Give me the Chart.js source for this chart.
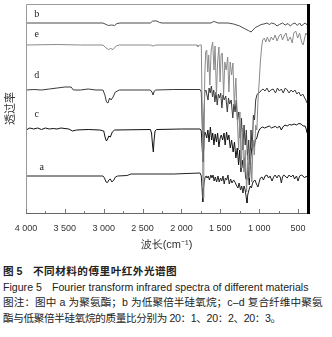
<!DOCTYPE html>
<html>
  <head>
    <meta charset="utf-8" />
    <title>FTIR spectra</title>
    <script src="https://cdn.jsdelivr.net/npm/chart.js@4"></script>
    <style>
      body { margin: 0; background: #fff; }
      #wrap { position: relative; width: 332px; height: 337px; overflow: hidden; }
      #caption {
        position: absolute; left: 3px; top: 264px; width: 330px;
        font-family: "Liberation Sans", "Noto Sans CJK SC", sans-serif;
        font-size: 10.6px; line-height: 15.5px; color: #222; white-space: nowrap;
      }
      #caption .num { display: inline-block; width: 30px; letter-spacing: 0; }
      #caption .fig { display: inline-block; width: 49px; }
    </style>
  </head>
  <body>
    <div id="wrap">
      <canvas id="ftirCanvas" width="332" height="262"></canvas>
      <div id="caption">
        <div style="font-weight: bold; letter-spacing: 0.5px"><span class="num">图 5</span>不同材料的傅里叶红外光谱图</div>
        <div><span class="fig">Figure 5</span>Fourier transform infrared spectra of different materials</div>
        <div style="letter-spacing: 0.1px">图注：图中 a 为聚氨酯；b 为低聚倍半硅氧烷；c–d 复合纤维中聚氨</div>
        <div style="letter-spacing: -0.35px">酯与低聚倍半硅氧烷的质量比分别为 20：1、20：2、20：3。</div>
      </div>
    </div>
    <script>
      // wavenumber (cm-1), transmittance (arbitrary, stacked)
      const xTicks = [4000, 3500, 3000, 2500, 2000, 1500, 1000, 500];
      const curveNames = ["b", "e", "d", "c", "a"];
      const labelAt = [[3861, 199], [3861, 179], [3861, 138], [3861, 99], [3797, 46]];

      const curveB = [
        [4000,190],[3010,190],[2970,188.5],[2940,187.5],[2900,188],[2860,187.5],[2830,189.5],
        [2790,190],[2400,190],[2370,192],[2320,192],[2280,190.5],[2250,190],[1620,190],
        [1590,191.5],[1560,191],[1530,190],[1400,190],[1330,189],[1250,187],[1180,184],
        [1140,182.5],[1105,181],[1080,183],[1050,185.5],[1010,187],[975,188.5],[940,189],
        [900,190],[870,188.5],[840,190],[800,189],[770,187],[740,188.5],[700,190],[665,188],
        [630,189.5],[600,187],[570,189],[540,190],[510,187.5],[480,190],[455,187],[430,189],
        [405,190],[385,188]
      ];
      const curveE = [
        [4000,168],[3600,168.5],[3300,168],[3010,168],[2970,165],[2940,163.5],[2910,164.5],
        [2880,163.5],[2840,167],[2800,168],[2400,168],[2360,167],[2330,168],[1800,168],
        [1790,166],[1770,168],[1745,168],[1732,93],[1722,15],[1712,73],[1700,138],[1688,161],
        [1675,163],[1662,141],[1650,158],[1635,128],[1618,163],[1598,171],[1582,143],
        [1568,167],[1550,118],[1535,151],[1518,166],[1503,131],[1490,158],[1475,160],
        [1458,118],[1442,151],[1425,143],[1405,156],[1390,121],[1373,151],[1355,138],
        [1338,150],[1320,108],[1300,135],[1282,95],[1265,63],[1248,101],[1232,45],[1215,85],
        [1198,41],[1180,63],[1162,21],[1145,58],[1128,35],[1112,63],[1095,31],[1078,73],
        [1062,58],[1045,88],[1030,83],[1015,113],[1000,131],[985,151],[970,165],[955,173],
        [935,175],[915,171],[895,176],[870,171],[845,176],[820,173],[795,178],[770,172],
        [745,177],[720,179],[700,173],[680,177],[655,180],[630,172],[600,176],[575,170],
        [555,180],[530,182],[505,175],[480,180],[455,171],[435,168],[415,175],[400,180],
        [385,178]
      ];
      const curveD = [
        [4000,123],[3900,123.5],[3800,123],[3700,124],[3600,125],[3500,126],[3420,126],
        [3390,123],[3300,123],[3200,124],[3100,123],[3010,123],[2985,118],[2965,111],
        [2945,110],[2925,115],[2905,113],[2880,116],[2850,121],[2800,123],[2400,123],
        [2380,121],[2365,118],[2350,122],[2330,123],[2100,123.5],[1760,123.5],[1745,121],
        [1730,83],[1722,63],[1712,95],[1700,121],[1685,123],[1672,118],[1658,113],[1645,125],
        [1630,120],[1615,127],[1600,116],[1585,123],[1570,111],[1555,121],[1540,108],
        [1525,119],[1510,115],[1495,120],[1480,105],[1465,118],[1450,113],[1430,117],
        [1410,101],[1395,115],[1380,109],[1360,113],[1340,95],[1325,109],[1310,101],
        [1295,113],[1280,93],[1262,101],[1245,75],[1228,95],[1210,63],[1195,88],[1180,68],
        [1165,83],[1150,53],[1135,73],[1120,48],[1105,83],[1090,63],[1075,98],[1060,93],
        [1045,113],[1030,118],[1010,120],[990,121],[970,123],[950,124],[925,122],[900,125],
        [875,121],[850,123],[820,124],[790,120],[765,125],[740,122],[715,124],[690,120],
        [665,125],[640,123],[615,120],[590,123],[565,121],[540,123],[515,119],[490,121],
        [465,117],[440,119],[420,116],[400,113],[385,110]
      ];
      const curveC = [
        [4000,83],[3950,85],[3900,84],[3850,85],[3800,83.5],[3750,85],[3700,84],[3650,84.5],
        [3600,84],[3550,85],[3450,84],[3400,82],[3350,83],[3200,83.5],[3050,83],[3000,82],
        [2980,75],[2965,72],[2950,74],[2935,77],[2915,76],[2890,81],[2860,83],[2400,83.5],
        [2385,80],[2372,68],[2362,61],[2352,73],[2340,82],[2320,83.5],[2000,84],[1760,84],
        [1745,82],[1732,63],[1723,51],[1712,73],[1700,81],[1688,79],[1675,75],[1660,83],
        [1645,71],[1628,86],[1612,73],[1598,80],[1582,68],[1566,79],[1550,71],[1535,80],
        [1518,66],[1502,75],[1488,78],[1470,73],[1452,80],[1438,68],[1420,81],[1405,73],
        [1390,78],[1372,65],[1355,73],[1335,61],[1318,71],[1300,55],[1282,65],[1265,48],
        [1250,63],[1235,41],[1220,53],[1205,45],[1190,55],[1175,35],[1160,33],[1145,48],
        [1128,28],[1112,53],[1098,63],[1080,68],[1065,66],[1050,73],[1030,75],[1015,80],
        [1000,83],[980,85],[955,86],[930,85],[900,86],[870,87],[840,85],[815,86],[790,86.5],
        [765,85],[740,87],[715,83],[695,86],[670,88],[640,87],[610,88.5],[580,88],[550,89],
        [520,88],[490,89.5],[460,89],[435,87],[410,87],[395,84],[385,80]
      ];
      const curveA = [
        [4000,37],[3010,37],[2990,35],[2970,31],[2950,30.5],[2935,33],[2915,34],[2895,31],
        [2870,33],[2850,36],[2820,37],[2700,37.5],[2650,39],[2100,39],[1760,40],[1745,37],
        [1735,25],[1726,11],[1718,23],[1708,31],[1695,36],[1682,37],[1670,35],[1655,37],
        [1640,33],[1622,38],[1608,35],[1594,38],[1580,32],[1565,36],[1548,31],[1530,37],
        [1515,31],[1498,35],[1482,32],[1466,37],[1450,29],[1435,35],[1418,33],[1402,38],
        [1385,29],[1368,34],[1350,30],[1330,33],[1312,31],[1295,28],[1273,25],[1258,30],
        [1240,23],[1225,27],[1209,20],[1195,27],[1180,23],[1166,15],[1157,10],[1148,18],
        [1132,23],[1115,27],[1100,25],[1085,30],[1070,32],[1054,33],[1035,29],[1016,26],
        [1000,31],[985,35],[964,36],[945,33],[925,37],[900,38],[880,35],[860,37],[835,32],
        [815,36],[795,38],[771,35],[750,38],[730,36],[715,30],[700,36],[685,38],[668,37],
        [640,35],[615,38],[590,36],[565,38],[545,34],[520,37],[500,32],[480,37],[460,38],
        [436,37],[415,35],[395,37],[385,36]
      ];

      const curves = [curveB, curveE, curveD, curveC, curveA];
      const colors = ["#4a4a4a", "#8a8a8a", "#3a3a3a", "#111111", "#222222"];

      function fmtTick(v) {
        if (v >= 1000) return Math.floor(v / 1000) + " " + String(v % 1000).padStart(3, "0");
        return String(v);
      }

      // frame, inward ticks and curve letters
      const framePlugin = {
        id: "frame",
        afterDraw(chart) {
          const { ctx, chartArea: a, scales } = chart;
          const xs = scales.x, ys = scales.y;
          ctx.save();
          ctx.lineWidth = 1;
          ctx.strokeStyle = "#9a9a9a";
          ctx.beginPath();
          ctx.moveTo(a.left + 0.5, a.bottom + 0.5);
          ctx.lineTo(a.left + 0.5, a.top + 0.5);
          ctx.lineTo(a.right, a.top + 0.5);
          ctx.stroke();
          ctx.strokeStyle = "#666";
          ctx.beginPath();
          ctx.moveTo(a.left, a.bottom + 0.5);
          ctx.lineTo(a.right, a.bottom + 0.5);
          ctx.stroke();
          ctx.fillStyle = "#000";
          ctx.fillRect(a.right, a.top, 3, a.bottom - a.top + 1);

          ctx.strokeStyle = "#777";
          ctx.beginPath();
          xTicks.forEach((v) => {
            const px = Math.round(xs.getPixelForValue(v)) + 0.5;
            ctx.moveTo(px, a.bottom);
            ctx.lineTo(px, a.bottom - 4);
            const mv = v - 250;
            if (mv > xs.min) {
              const mx = Math.round(xs.getPixelForValue(mv)) + 0.5;
              ctx.moveTo(mx, a.bottom);
              ctx.lineTo(mx, a.bottom - 2);
            }
          });
          ctx.stroke();

          ctx.font = '10px "Liberation Serif", serif';
          ctx.fillStyle = "#222";
          ctx.textAlign = "center";
          ctx.textBaseline = "middle";
          curveNames.forEach((n, i) => {
            ctx.fillText(n, xs.getPixelForValue(labelAt[i][0]), ys.getPixelForValue(labelAt[i][1]));
          });
          ctx.restore();
        },
      };

      const ctx = document.getElementById("ftirCanvas").getContext("2d");
      new Chart(ctx, {
        type: "scatter",
        data: {
          datasets: curves.map((c, i) => ({
            label: curveNames[i],
            data: c.map((p) => ({ x: p[0], y: p[1] })),
            showLine: true,
            borderColor: colors[i],
            borderWidth: 1,
            pointRadius: 0,
            tension: 0,
          })),
        },
        options: {
          responsive: false,
          animation: false,
          devicePixelRatio: 1,
          layout: { padding: { top: 4, right: 25, left: 0, bottom: 0 } },
          plugins: { legend: { display: false }, tooltip: { enabled: false } },
          scales: {
            x: {
              type: "linear",
              reverse: true,
              min: 385,
              max: 4000,
              afterBuildTicks: (s) => { s.ticks = xTicks.map((v) => ({ value: v })); },
              afterFit: (s) => { s.height = 49; },
              grid: { display: false, drawTicks: false },
              border: { display: false },
              ticks: {
                autoSkip: false,
                maxRotation: 0,
                padding: 10,
                color: "#333",
                font: { family: "Liberation Sans", size: 9 },
                callback: fmtTick,
              },
              title: {
                display: true,
                text: "波长(cm⁻¹)",
                color: "#333",
                font: { family: "Liberation Sans", size: 11 },
                padding: { top: 0, bottom: 10 },
              },
            },
            y: {
              min: 0,
              max: 209,
              afterFit: (s) => { s.width = 26; },
              grid: { display: false, drawTicks: false },
              border: { display: false },
              ticks: { display: false },
              title: {
                display: true,
                text: "透过率",
                color: "#333",
                font: { family: "Noto Sans CJK SC", size: 11 },
                padding: { top: 3, bottom: 0 },
              },
            },
          },
        },
        plugins: [framePlugin],
      });
    </script>
  </body>
</html>
